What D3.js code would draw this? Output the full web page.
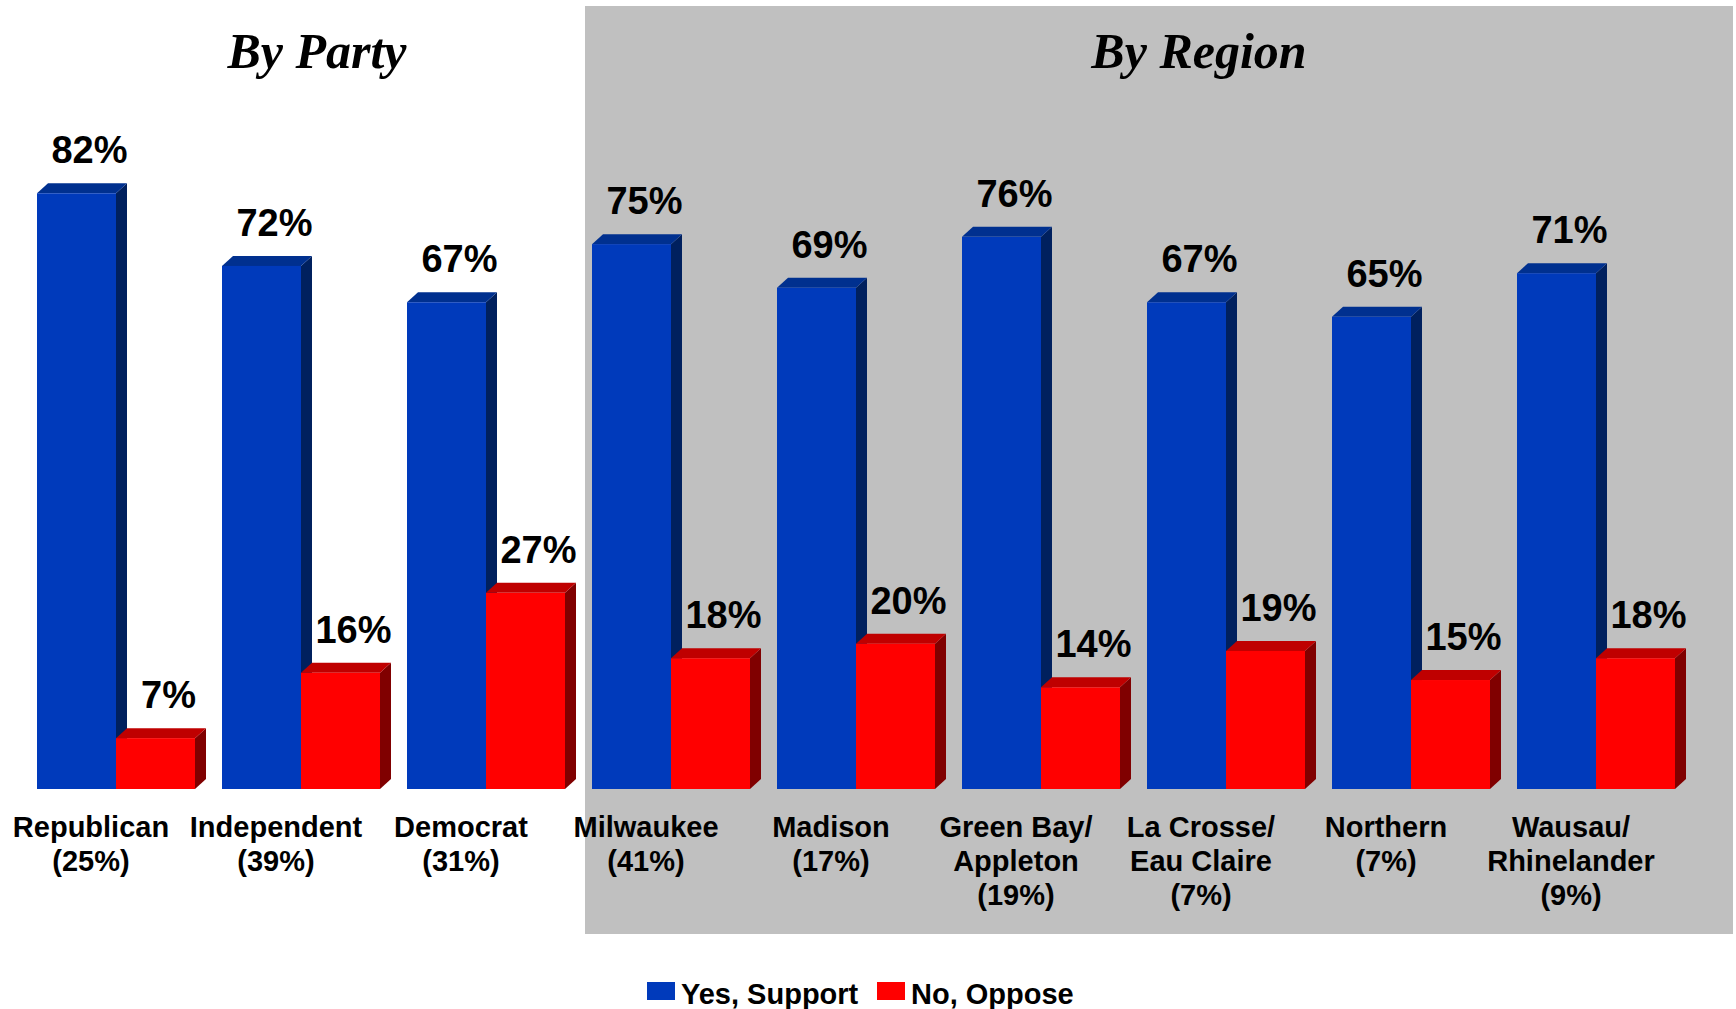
<!DOCTYPE html>
<html>
<head>
<meta charset="utf-8">
<script src="https://cdn.jsdelivr.net/npm/d3@7"></script>
<style>
  body { margin: 0; background: #fff; }
  text { font-family: "Liberation Sans", Arial, sans-serif; font-weight: bold; }
</style>
</head>
<body>
<svg id="chart" width="1736" height="1009"></svg>
<script>
// data
let categories = ["Republican", "Independent", "Democrat", "Milwaukee", "Madison",
    "Green Bay/\nAppleton", "La Crosse/\nEau Claire", "Northern", "Wausau/\nRhinelander"];
let sampleShare = ["25%", "39%", "31%", "41%", "17%", "19%", "7%", "7%", "9%"];
let supportValues = [82, 72, 67, 75, 69, 76, 67, 65, 71];
let opposeValues = [7, 16, 27, 18, 20, 14, 19, 15, 18];
let sectionTitles = ["By Party", "By Region"];
let seriesNames = ["Yes, Support", "No, Oppose"];

function drawChart(svgId) {
    let svg = d3.select(svgId);

    let baseY = 789;
    let barW = 79;
    let depthX = 11;
    let depthY = 10;

    let blue = {front: "#003ABB", top: "#00308F", side: "#00205E"};
    let red = {front: "#FF0000", top: "#BF0000", side: "#800000"};

    let x = d3.scalePoint()
        .domain(categories)
        .range([37, 1517]);

    let y = d3.scaleLinear()
        .domain([0, 100])
        .range([baseY, baseY - 726.5]);

    // grey background behind the region section
    svg.append("rect")
        .attr("x", 585)
        .attr("y", 6)
        .attr("width", 1148)
        .attr("height", 928)
        .attr("fill", "#C0C0C0");

    // section titles
    svg.selectAll(".title")
        .data(sectionTitles)
        .enter().append("text")
        .attr("class", "title")
        .attr("x", (d, i) => i == 0 ? 317 : 1199)
        .attr("y", 68)
        .attr("text-anchor", "middle")
        .style("font-family", "'Liberation Serif', 'Times New Roman', serif")
        .style("font-style", "italic")
        .style("font-size", "50px")
        .text((d) => d);

    function drawBar(g, x0, value, colors) {
        let top = y(value);
        g.append("polygon")
            .attr("points", [[x0 + barW, top], [x0 + barW + depthX, top - depthY],
                [x0 + barW + depthX, baseY - depthY], [x0 + barW, baseY]].join(" "))
            .attr("fill", colors.side);
        g.append("polygon")
            .attr("points", [[x0, top], [x0 + depthX, top - depthY],
                [x0 + barW + depthX, top - depthY], [x0 + barW, top]].join(" "))
            .attr("fill", colors.top);
        g.append("rect")
            .attr("x", x0)
            .attr("y", top)
            .attr("width", barW)
            .attr("height", baseY - top)
            .attr("fill", colors.front);
        g.append("text")
            .attr("x", x0 + barW / 2 + 13)
            .attr("y", top - 30)
            .attr("text-anchor", "middle")
            .style("font-size", "38px")
            .text(value + "%");
    }

    let bars = svg.append("g");
    categories.forEach((c, i) => {
        let g = bars.append("g");
        drawBar(g, x(c), supportValues[i], blue);
        drawBar(g, x(c) + barW, opposeValues[i], red);
    });

    // category labels
    let labels = svg.append("g");
    categories.forEach((c, i) => {
        let lines = c.split("\n").concat(["(" + sampleShare[i] + ")"]);
        let t = labels.append("text")
            .attr("text-anchor", "middle")
            .style("font-size", "29px");
        lines.forEach((line, j) => {
            t.append("tspan")
                .attr("x", x(c) + 54)
                .attr("y", 837 + j * 34)
                .text(line);
        });
    });

    // legend
    let legend = svg.append("g");
    let legendX = [647, 877];
    [blue, red].forEach((col, i) => {
        legend.append("rect")
            .attr("x", legendX[i])
            .attr("y", 982)
            .attr("width", 28)
            .attr("height", 18)
            .attr("fill", col.front);
        legend.append("text")
            .attr("x", legendX[i] + 34)
            .attr("y", 1004)
            .style("font-size", "29px")
            .text(seriesNames[i]);
    });
}

drawChart("#chart");
</script>
</body>
</html>
